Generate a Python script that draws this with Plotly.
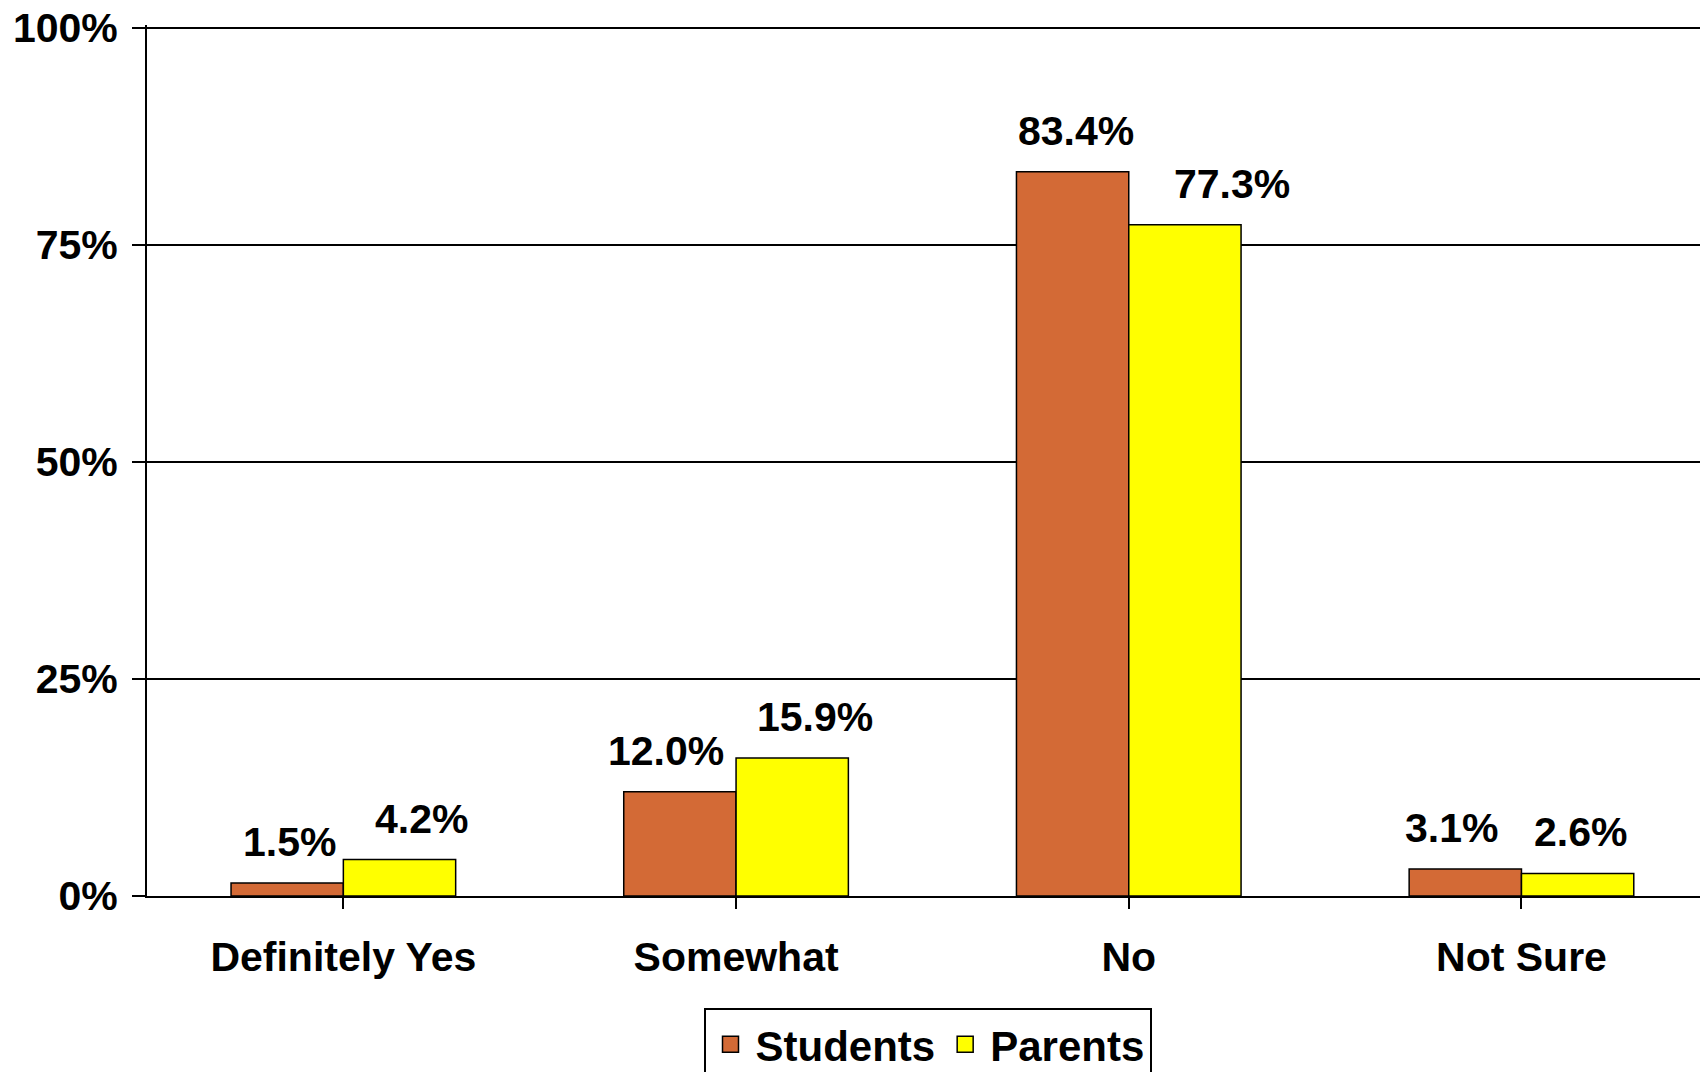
import plotly.graph_objects as go

categories = ["Definitely Yes", "Somewhat", "No", "Not Sure"]
students = [1.5, 12.0, 83.4, 3.1]
parents = [4.2, 15.9, 77.3, 2.6]
series_names = ["Students", "Parents"]
y_ticks = [0, 25, 50, 75, 100]

# styling
FONT = "Liberation Sans, Arial, sans-serif"
FS = 41
colors = ["#D36A36", "#FFFF00"]
# per-label horizontal nudges (px), mimicking manually placed labels
label_shift = [[2, -14, 3, -14], [22, 23, 47, 3]]

fig = go.Figure()
for name, vals, col in zip(series_names, [students, parents], colors):
    fig.add_trace(go.Bar(
        x=list(range(len(categories))), y=vals, name=name, showlegend=False,
        marker=dict(color=col, line=dict(color="black", width=1.5)),
    ))
# legend entries with larger square swatches
for name, col in zip(series_names, colors):
    fig.add_trace(go.Scatter(
        x=[None], y=[None], mode="markers", name=name,
        marker=dict(symbol="square", size=26, color=col,
                    line=dict(color="black", width=1.5)),
    ))

half = (1 - 0.428) / 4
for s, vals in enumerate([students, parents]):
    for i, v in enumerate(vals):
        fig.add_annotation(
            x=i + (-half if s == 0 else half), y=v, xref="x", yref="y",
            text=f"{v:.1f}%", showarrow=False, yanchor="bottom",
            yshift=16, xshift=label_shift[s][i],
            font=dict(family=FONT, size=FS, color="black", weight="bold"),
        )

fig.update_layout(
    width=1700, height=1064,
    margin=dict(l=139, r=0, t=17, b=176, autoexpand=False),
    paper_bgcolor="white", plot_bgcolor="white",
    barmode="group", bargap=0.428, bargroupgap=0,
    font=dict(family=FONT, size=FS, color="black", weight="bold"),
    showlegend=True,
    legend=dict(
        orientation="h", x=0.5, xanchor="center", y=-0.129, yanchor="top",
        bordercolor="black", borderwidth=2, bgcolor="white",
        font=dict(family=FONT, size=42, color="black", weight="bold"),
        itemwidth=40, tracegroupgap=0,
    ),
)
fig.update_xaxes(
    range=[-0.5, 3.475], tickmode="array",
    tickvals=list(range(len(categories))), ticktext=categories,
    tickson="boundaries", ticks="outside", ticklen=11, tickwidth=2, tickcolor="black",
    showline=True, linecolor="black", linewidth=2, showgrid=False, zeroline=False,
    ticklabelstandoff=13,
    tickfont=dict(family=FONT, size=FS, color="black", weight="bold"),
)
fig.update_yaxes(
    range=[0, 100.3], tickmode="array", tickvals=y_ticks,
    ticktext=[f"{t}%" for t in y_ticks],
    ticks="outside", ticklen=13, tickwidth=2, tickcolor="black",
    showline=True, linecolor="black", linewidth=2,
    showgrid=True, gridcolor="black", gridwidth=2, zeroline=False,
    ticklabelstandoff=6, ticklabeloverflow="allow",
    tickfont=dict(family=FONT, size=FS, color="black", weight="bold"),
)

fig.write_html("out.html")
